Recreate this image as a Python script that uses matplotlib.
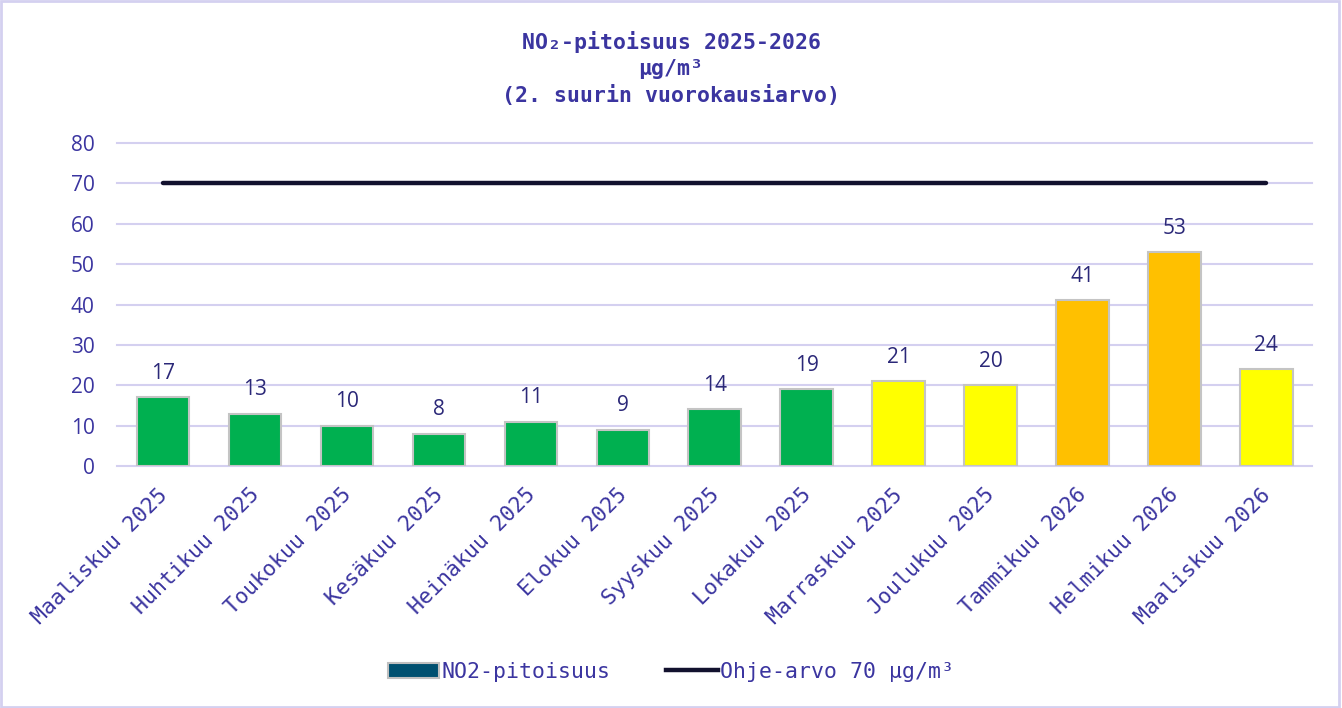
import matplotlib.pyplot as plt
import matplotlib.transforms as mtransforms
from matplotlib.patches import Rectangle, Patch
from matplotlib.lines import Line2D

# data
months = ["Maaliskuu 2025", "Huhtikuu 2025", "Toukokuu 2025", "Kesäkuu 2025",
          "Heinäkuu 2025", "Elokuu 2025", "Syyskuu 2025", "Lokakuu 2025",
          "Marraskuu 2025", "Joulukuu 2025", "Tammikuu 2026", "Helmikuu 2026",
          "Maaliskuu 2026"]
no2 = [17, 13, 10, 8, 11, 9, 14, 19, 21, 20, 41, 53, 24]
bar_colors = ["#00B050"] * 8 + ["#FFFF00", "#FFFF00", "#FFC000", "#FFC000", "#FFFF00"]
limit_value = 70

text_col = "#3B35A0"
mono = "DejaVu Sans Mono"

fig = plt.figure(figsize=(13.42, 7.08), dpi=100)
ax = fig.add_axes([0.0872, 0.3418, 0.8907, 0.4562])

x = list(range(len(months)))
bars = ax.bar(x, no2, width=0.57, color=bar_colors, edgecolor="#C4C4C4",
              linewidth=1.5, zorder=3)
ax.plot([x[0], x[-1]], [limit_value, limit_value], color="#12112E",
        linewidth=3.2, solid_capstyle="round", zorder=4)

for xi, v in zip(x, no2):
    ax.text(xi, v + 3.3, str(v), ha="center", va="bottom", fontsize=15,
            family="Open Sans", color="#2B2878")

ax.set_xlim(-0.5, len(months) - 0.5)
ax.set_ylim(0, 80)
ax.set_yticks(range(0, 81, 10))
ax.yaxis.grid(True, color="#D4D0F0", linewidth=1.5, zorder=0)
for gl in ax.get_ygridlines():
    gl.set_clip_on(False)
for s in ax.spines.values():
    s.set_visible(False)
ax.tick_params(axis="both", length=0)
ax.tick_params(axis="y", labelsize=15, labelcolor=text_col, pad=16)
for lab in ax.get_yticklabels():
    lab.set_family("Open Sans")

ax.set_xticks(x)
ax.set_xticklabels(months, rotation=45, ha="right", rotation_mode="anchor",
                   family=mono, fontsize=15.5, color=text_col)
ax.tick_params(axis="x", pad=12)
# nudge the rotated labels a little left/down like the original
shift = mtransforms.ScaledTranslation(-6 / 100, -2 / 100, fig.dpi_scale_trans)
for lab in ax.get_xticklabels():
    lab.set_transform(lab.get_transform() + shift)

fig.text(0.5, 0.903, "NO₂-pitoisuus 2025-2026\nµg/m³\n(2. suurin vuorokausiarvo)",
         ha="center", va="center", family=mono, fontweight="bold",
         fontsize=15.5, color=text_col, linespacing=1.35)

handles = [Patch(facecolor="#005070", edgecolor="#BFBFBF", linewidth=1.5),
           Line2D([], [], color="#12112E", linewidth=3.2)]
leg = fig.legend(handles, ["NO2-pitoisuus", "Ohje-arvo 70 µg/m³"],
                 loc="center", bbox_to_anchor=(0.5, 0.051), ncol=2,
                 frameon=False, handlelength=2.4, handletextpad=0.1,
                 columnspacing=2.6, prop={"family": mono, "size": 15.5})
for t in leg.get_texts():
    t.set_color(text_col)

fig.patches.append(Rectangle((0.001, 0.001), 0.997, 0.997, transform=fig.transFigure,
                             fill=False, edgecolor="#D4D0F0", linewidth=2))

fig.savefig("out.png", dpi=100)
